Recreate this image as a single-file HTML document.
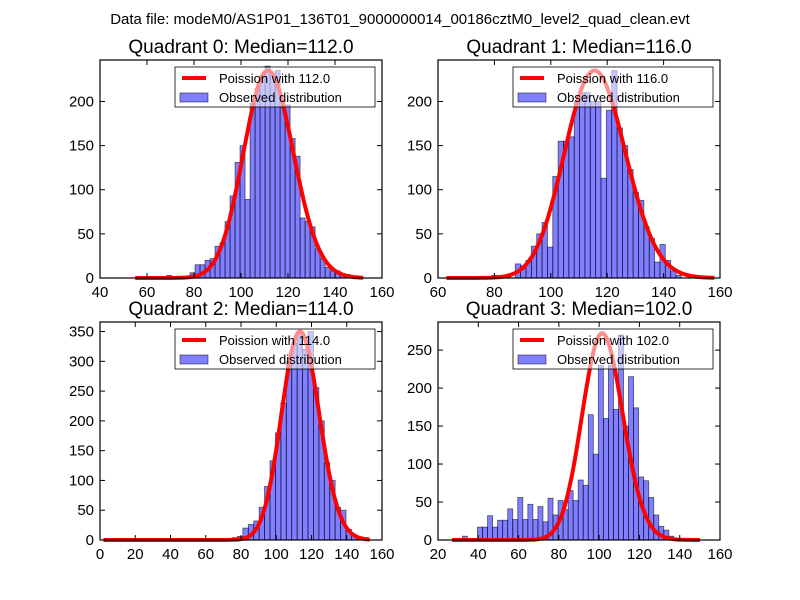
<!DOCTYPE html>
<html><head><meta charset="utf-8"><style>
body{margin:0;background:#fff}
svg{display:block;font-family:"Liberation Sans","DejaVu Sans",sans-serif}
</style></head><body>
<svg id="fig" width="800" height="600" viewBox="0 0 800 600">
<rect width="800" height="600" fill="#fff"/>
<text x="400" y="24" text-anchor="middle" font-size="15">Data file: modeM0/AS1P01_136T01_9000000014_00186cztM0_level2_quad_clean.evt</text>
</svg>
<script>
const titles = ["Quadrant 0: Median=112.0","Quadrant 1: Median=116.0","Quadrant 2: Median=114.0","Quadrant 3: Median=102.0"];
const medians = [112, 116, 114, 102];
const curvePeaks = [235, 235, 350, 272];
const curveRanges = [[55,152],[63,158],[2,153],[27,150]];
const xDomains = [[40,160],[60,160],[0,160],[20,160]];
const yMaxes = [247, 247, 366, 287];
const xTicks0 = [40,60,80,100,120,140,160];
const xTicks1 = [60,80,100,120,140,160];
const xTicks2 = [0,20,40,60,80,100,120,140,160];
const xTicks3 = [20,40,60,80,100,120,140,160];
const yTicks0 = [0,50,100,150,200];
const yTicks1 = [0,50,100,150,200];
const yTicks2 = [0,50,100,150,200,250,300,350];
const yTicks3 = [0,50,100,150,200,250];
const binStarts = [78.3, 87.4, 74.9, 32.1];
const binWidths = [2.13, 1.9, 3.08, 2.5];
const q0Counts = [6,15,15,20,22,36,40,64,93,131,150,89,198,215,230,240,230,235,195,196,158,138,68,64,58,33,22,12,8,8,5,4];
const q1Counts = [16,14,20,36,50,63,35,115,155,155,160,200,210,210,200,200,113,190,235,170,150,123,97,88,58,45,18,38,20,8,3];
const q2Counts = [4,6,20,26,32,55,90,133,180,230,300,330,345,320,350,256,200,130,100,55,50,18,8,5,4];
const q3Counts = [5,0,0,17,17,32,17,26,26,41,27,56,27,47,27,44,24,55,33,52,40,65,52,79,72,165,113,230,160,230,172,270,150,215,174,83,78,56,33,18,13,5];
const allCounts = [q0Counts,q1Counts,q2Counts,q3Counts];
const allXTicks = [xTicks0,xTicks1,xTicks2,xTicks3];
const allYTicks = [yTicks0,yTicks1,yTicks2,yTicks3];
const extraBars = [[[68.4,3],[72.5,2]],[[79,3],[84,4]],[],[]];

const NS = "http://www.w3.org/2000/svg";
const svg = document.getElementById('fig');
const boxes = [[100,60],[438,60],[100,322],[438,322]];
const W = 282, H = 218;
function mk(tag, attrs, parent){
  const e = document.createElementNS(NS, tag);
  for (const k in attrs) e.setAttribute(k, attrs[k]);
  parent.appendChild(e); return e;
}
function logPois(k, mu){ let s=0; for(let i=2;i<=k;i++) s+=Math.log(i); return k*Math.log(mu)-mu-s; }

for (let q=0;q<4;q++){
  const [bx,by] = boxes[q];
  const [x0,x1] = xDomains[q];
  const ymax = yMaxes[q];
  const X = v => bx + (v-x0)/(x1-x0)*W;
  const Y = v => by + H - v/ymax*H;
  const g = mk('g',{},svg);
  
  
  const t = mk('text',{x:bx+W/2,y:by-7,'text-anchor':'middle','font-size':19},g);
  t.textContent = titles[q];
  
  
  // bars
  const counts = allCounts[q];
  counts.forEach((c,i)=>{
    if(!c) return;
    const l = binStarts[q] + i*binWidths[q];
    const r = mk('rect',{x:X(l),y:Y(c),width:X(l+binWidths[q])-X(l),height:Y(0)-Y(c),fill:'rgba(0,0,255,0.5)',stroke:'#000','stroke-opacity':0.6,'stroke-width':0.8},g);
    
    
  });
  extraBars[q].forEach(([l,c])=>{
    const r = mk('rect',{x:X(l),y:Y(c),width:X(l+binWidths[q])-X(l),height:Y(0)-Y(c),fill:'rgba(0,0,255,0.5)',stroke:'#000','stroke-opacity':0.6,'stroke-width':0.8},g);
    
    
  });
  // poisson curve
  const mu = medians[q];
  const lm = logPois(mu, mu);
  let pts = [];
  for (let k=curveRanges[q][0]; k<=curveRanges[q][1]; k++){
    const v = curvePeaks[q]*Math.exp(logPois(k,mu)-lm);
    pts.push(X(k).toFixed(1)+','+Y(v).toFixed(1));
  }
  const pl = mk('polyline',{points:pts.join(' '),fill:'none',stroke:'#f00','stroke-width':4,'stroke-linejoin':'round'},g);
  
  
  // axes frame
  const fr = mk('rect',{x:bx,y:by,width:W,height:H,fill:'none',stroke:'#000','stroke-width':1.2},g);
  
  
  allXTicks[q].forEach(v=>{
    const x = X(v);
    mk('line',{x1:x,y1:by+H,x2:x,y2:by+H-5,stroke:'#000'},g);
    mk('line',{x1:x,y1:by,x2:x,y2:by+5,stroke:'#000'},g);
    const tx = mk('text',{x:x,y:by+H+19,'text-anchor':'middle','font-size':15},g);
    tx.textContent = v;
    
    
  });
  allYTicks[q].forEach(v=>{
    const y = Y(v);
    mk('line',{x1:bx,y1:y,x2:bx+5,y2:y,stroke:'#000'},g);
    mk('line',{x1:bx+W,y1:y,x2:bx+W-5,y2:y,stroke:'#000'},g);
    const ty = mk('text',{x:bx-6,y:y+5,'text-anchor':'end','font-size':15},g);
    ty.textContent = v;
    
    
  });
  // legend
  const lg = mk('g',{},g);
  
  
  const lx = bx+75, ly = by+7;
  mk('rect',{x:lx,y:ly,width:200,height:40,fill:'rgba(255,255,255,0.55)',stroke:'#000','stroke-width':0.8},lg);
  mk('line',{x1:lx+7,y1:ly+11,x2:lx+31,y2:ly+11,stroke:'#f00','stroke-width':4},lg);
  const l1 = mk('text',{x:lx+44,y:ly+16,'font-size':13},lg);
  l1.textContent = 'Poission with '+medians[q].toFixed(1);
  
  
  mk('rect',{x:lx+5,y:ly+26,width:28,height:9,fill:'rgba(0,0,255,0.5)',stroke:'#000','stroke-opacity':0.6,'stroke-width':0.8},lg);
  const l2 = mk('text',{x:lx+44,y:ly+35,'font-size':13},lg);
  l2.textContent = 'Observed distribution';
  
  
}
</script>
</body></html>
